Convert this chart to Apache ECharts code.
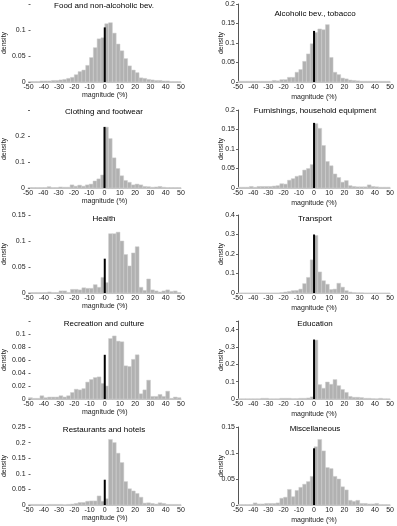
<!DOCTYPE html>
<html>
<head>
<meta charset="utf-8">
<script src="https://cdn.jsdelivr.net/npm/echarts@6/dist/echarts.min.js"></script>
<style>
  html, body { margin: 0; padding: 0; background: #fff; }
  #chart { width: 397px; height: 526px; }
</style>
</head>
<body>
<div id="chart"></div>
<script>
// histogram bins: 2.5 wide, from -50 to 50 (40 bins)
var binStart = -50;
var binWidth = 2.5;

var titles = ['Food and non-alcoholic bev.', 'Alcoholic bev., tobacco',
  'Clothing and footwear', 'Furnishings, household equipment',
  'Health', 'Transport', 'Recreation and culture', 'Education',
  'Restaurants and hotels', 'Miscellaneous'];

var food = [0.001,0.001,0.001,0.002,0.002,0.002,0.003,0.003,0.004,0.005,
  0.007,0.009,0.014,0.02,0.023,0.032,0.047,0.066,0.083,0.085,
  0.112,0.114,0.094,0.073,0.06,0.045,0.031,0.023,0.018,0.008,
  0.007,0.005,0.004,0.003,0.003,0.002,0.002,0.001,0.001,0.001];
var alcohol = [0.002,0.002,0.002,0.002,0.002,0.002,0.002,0.002,0.002,0.004,
  0.003,0.006,0.006,0.012,0.012,0.025,0.032,0.053,0.072,0.098,
  0.127,0.136,0.134,0.147,0.063,0.025,0.019,0.01,0.008,0.005,
  0.004,0.003,0.002,0.002,0.002,0.002,0.002,0.002,0.002,0.002];
var clothing = [0.002,0.002,0.002,0.002,0.002,0.005,0.002,0.002,0.004,0.003,
  0.003,0.012,0.007,0.011,0.007,0.012,0.015,0.027,0.035,0.05,
  0.234,0.19,0.116,0.075,0.047,0.029,0.022,0.012,0.015,0.012,
  0.006,0.005,0.003,0.004,0.006,0.003,0.002,0.002,0.002,0.002];
var furnishings = [0.002,0.002,0.002,0.004,0.002,0.004,0.004,0.004,0.004,0.005,
  0.006,0.011,0.01,0.02,0.024,0.03,0.032,0.046,0.05,0.06,
  0.165,0.153,0.109,0.068,0.057,0.036,0.027,0.015,0.019,0.006,
  0.004,0.003,0.003,0.003,0.008,0.004,0.003,0.002,0.002,0.002];
var health = [0.001,0.001,0.001,0.001,0.001,0.002,0.001,0.001,0.004,0.004,
  0.001,0.007,0.007,0.006,0.01,0.009,0.009,0.016,0.011,0.03,
  0.02,0.114,0.114,0.117,0.1,0.074,0.052,0.077,0.089,0.011,
  0.005,0.027,0.006,0.004,0.002,0.004,0.006,0.003,0.004,0.001];
var transport = [0,0,0,0,0,0,0,0,0,0,
  0,0.002,0.005,0.008,0.012,0.013,0.02,0.048,0.08,0.17,
  0.295,0.108,0.063,0.045,0.018,0.02,0.05,0.03,0.012,0.005,
  0.002,0.001,0.001,0,0,0,0,0,0,0];
var recreation = [0.002,0.001,0.001,0.005,0.002,0.003,0.003,0.003,0.005,0.003,
  0.005,0.01,0.015,0.014,0.016,0.026,0.03,0.033,0.034,0.024,
  0.02,0.093,0.097,0.089,0.088,0.051,0.05,0.061,0.068,0.008,
  0.014,0.029,0.004,0.004,0.007,0.004,0.012,0.001,0.003,0.002];
var education = [0.001,0.001,0.001,0.001,0.001,0.001,0.004,0.004,0.001,0.001,
  0.001,0.004,0.004,0.004,0.002,0.002,0.004,0.004,0.006,0.012,
  0.34,0.083,0.062,0.098,0.085,0.112,0.077,0.055,0.038,0.015,
  0.01,0.01,0.008,0.004,0.004,0.002,0.001,0.004,0.001,0.001];
var restaurants = [0.002,0.002,0.002,0.002,0.001,0.002,0.002,0.002,0.002,0.001,
  0.002,0.003,0.005,0.008,0.008,0.012,0.013,0.013,0.029,0.012,
  0.02,0.21,0.2,0.166,0.136,0.075,0.052,0.045,0.037,0.025,
  0.006,0.007,0.005,0.003,0.007,0.005,0.002,0.002,0.002,0.002];
var misc = [0.001,0.001,0.001,0.001,0.004,0.002,0.002,0.003,0.003,0.003,
  0.004,0.013,0.015,0.03,0.016,0.028,0.034,0.04,0.045,0.055,
  0.112,0.126,0.104,0.072,0.07,0.055,0.05,0.035,0.029,0.009,
  0.007,0.009,0.003,0.003,0.002,0.002,0.003,0.001,0.001,0.001];

var densities = [food, alcohol, clothing, furnishings, health, transport,
  recreation, education, restaurants, misc];
// share of exactly-zero changes (black line at 0)
var zeroMass = [0.105, 0.131, 0.235, 0.167, 0.066, 0.3, 0.068, 0.343, 0.081, 0.109];
var yMax = [0.15, 0.2, 0.3, 0.2, 0.15, 0.4, 0.12, 0.45, 0.25, 0.15];
var yStep = [0.05, 0.05, 0.1, 0.05, 0.05, 0.1, 0.02, 0.1, 0.05, 0.05];
var showTopLabel = [false, true, false, true, true, true, false, false, true, true];

var rowTop = [4, 110, 215, 321, 427];
var titleY = [[3, 11], [109, 108], [216, 216], [321, 321], [427, 426]];

var dom = document.getElementById('chart');
var myChart = echarts.init(dom);

function renderBar(params, api) {
  var p0 = api.coord([api.value(0), api.value(2)]);
  var p1 = api.coord([api.value(1), 0]);
  return {
    type: 'rect',
    shape: { x: p0[0], y: p0[1], width: p1[0] - p0[0], height: p1[1] - p0[1] },
    style: { fill: '#b1b1b1', stroke: '#cfcfcf', lineWidth: 0.5 }
  };
}

function renderZero(params, api) {
  var p0 = api.coord([api.value(0), 0]);
  var p1 = api.coord([api.value(0), api.value(1)]);
  return {
    type: 'line',
    shape: { x1: p0[0], y1: p0[1], x2: p1[0], y2: p1[1] },
    style: { stroke: '#000', lineWidth: 2 }
  };
}

var grids = [], xAxes = [], yAxes = [], series = [], titleList = [];
for (var k = 0; k < 10; k++) {
  var col = k % 2, row = Math.floor(k / 2);
  var left = col === 0 ? 27 : 238;
  grids.push({ left: left, width: 154, top: rowTop[row], height: 78 });
  titleList.push({
    text: titles[k], left: col === 0 ? 104 : 315, top: titleY[row][col] - 1,
    textAlign: 'center', padding: 0,
    textStyle: { fontSize: 8, fontWeight: 'normal', color: '#000', fontFamily: 'Liberation Sans' }
  });
  xAxes.push({
    gridIndex: k, type: 'value', min: -50, max: 50, interval: 10,
    name: 'magnitude (%)', nameLocation: 'middle', nameGap: col === 0 ? 10 : 12,
    nameTextStyle: { fontSize: 7, color: '#222', fontFamily: 'Liberation Sans' },
    axisLine: { onZero: false, lineStyle: { color: '#c4c4c4', width: 1 } },
    axisTick: { show: false },
    splitLine: { show: false },
    axisLabel: { fontSize: 7, margin: 2, color: '#222', fontFamily: 'Liberation Sans' }
  });
  (function (top, showTop) {
    yAxes.push({
      gridIndex: k, type: 'value', min: 0, max: top, interval: yStep[k],
      name: 'density', nameLocation: 'middle',
      nameGap: col === 0 ? 20 : 13, nameMoveOverlap: col === 0,
      nameTextStyle: { fontSize: 7, color: '#222', fontFamily: 'Liberation Sans' },
      axisLine: { show: col === 1, onZero: false, lineStyle: { color: '#555', width: 1 } },
      axisTick: { show: true, inside: col === 0, length: 2, lineStyle: { color: '#666' } },
      splitLine: { show: false },
      axisLabel: {
        fontSize: 7, margin: 3, color: '#222', fontFamily: 'Liberation Sans',
        formatter: function (v) {
          if (Math.abs(v - top) < 1e-9 && !showTop) return '';
          return String(+v.toFixed(3));
        }
      }
    });
  })(yMax[k], showTopLabel[k]);
  var barData = densities[k].map(function (d, i) {
    return [binStart + i * binWidth, binStart + (i + 1) * binWidth, d];
  });
  series.push({
    type: 'custom', xAxisIndex: k, yAxisIndex: k, renderItem: renderBar,
    encode: { x: [0, 1], y: 2 }, data: barData, silent: true
  });
  series.push({
    type: 'custom', xAxisIndex: k, yAxisIndex: k, renderItem: renderZero,
    encode: { x: 0, y: 1 }, data: [[0, zeroMass[k]]], silent: true, z: 5
  });
}

var option = {
  animation: false,
  backgroundColor: '#fff',
  title: titleList,
  grid: grids,
  xAxis: xAxes,
  yAxis: yAxes,
  series: series
};
myChart.setOption(option, true);
</script>
</body>
</html>
